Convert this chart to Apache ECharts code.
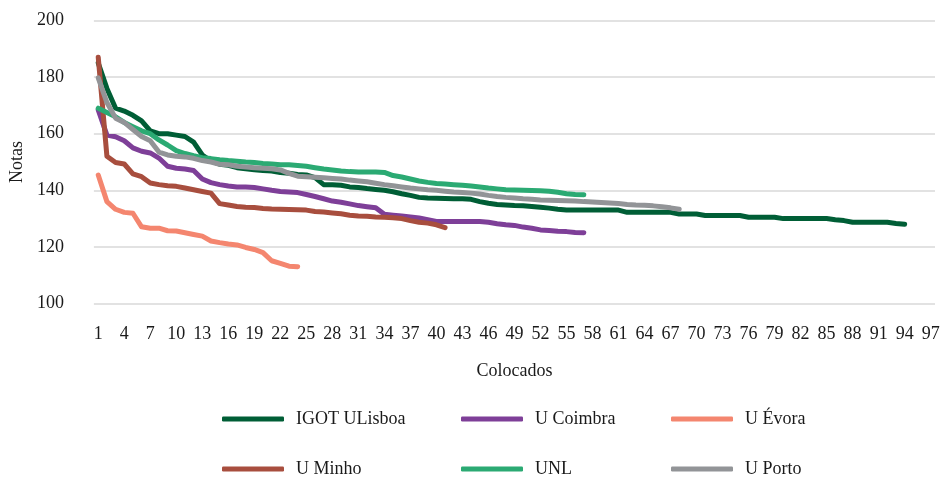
<!DOCTYPE html>
<html>
<head>
<meta charset="utf-8">
<script src="https://cdn.jsdelivr.net/npm/echarts@6/dist/echarts.min.js"></script>
<style>
html,body{margin:0;padding:0;background:#fff;}
#chart{width:943px;height:478px;}
</style>
</head>
<body>
<div id="chart"></div>
<script>
const categories = Array.from({length: 97}, (_, i) => String(i + 1));

const seriesNames = ['IGOT ULisboa', 'U Coimbra', 'U Évora', 'U Minho', 'UNL', 'U Porto'];

const igot = [185, 176, 169, 168, 166.5, 164.5, 161, 160, 160, 159.5,
  159, 157, 152.5, 150.3, 149.2, 148.8, 148, 147.6, 147.3, 147,
  146.8, 146.3, 146, 145.6, 145.4, 144.5, 142, 142, 141.8, 141.2,
  141, 140.6, 140.3, 140, 139.5, 138.8, 138.2, 137.5, 137.3, 137.2,
  137.1, 137, 137, 136.8, 136, 135.4, 135, 134.8, 134.6, 134.5,
  134.3, 134, 133.7, 133.3, 133, 133, 133, 133, 133, 133,
  133, 132.2, 132.2, 132.2, 132.2, 132.2, 132.2, 131.6, 131.6, 131.6,
  131.1, 131.1, 131.1, 131.1, 131.1, 130.5, 130.5, 130.5, 130.5, 130,
  130, 130, 130, 130, 130, 129.6, 129.3, 128.7, 128.7, 128.7,
  128.7, 128.7, 128.3, 128];

const coimbra = [168.4, 159.5, 158.9, 157.5, 155, 153.8, 153.2, 151.4, 148.5, 147.8,
  147.5, 147, 144, 142.7, 142, 141.5, 141.2, 141.2, 141, 140.5,
  140, 139.6, 139.4, 139.2, 138.5, 137.8, 137, 136.2, 135.8, 135.2,
  134.6, 134.2, 133.8, 131.5, 131.2, 130.9, 130.6, 130.2, 129.6, 129,
  129, 129, 129, 129, 129, 128.7, 128.2, 127.8, 127.6, 127,
  126.6, 126, 125.8, 125.5, 125.4, 125.1, 125];

const evora = [145.4, 136, 133.3, 132.2, 131.9, 127.1, 126.6, 126.6, 125.7, 125.6,
  125, 124.4, 123.8, 122.1, 121.5, 121, 120.7, 119.8, 119.1, 118,
  115.1, 114.2, 113.2, 113];

const minho = [187, 152, 149.8, 149.3, 145.8, 144.8, 142.6, 142, 141.6, 141.4,
  140.8, 140.2, 139.6, 139, 135.3, 134.8, 134.3, 134, 133.9, 133.6,
  133.4, 133.3, 133.2, 133.1, 133, 132.5, 132.3, 132, 131.7, 131.2,
  130.9, 130.8, 130.6, 130.5, 130.3, 130, 129.3, 128.7, 128.4, 127.8,
  126.8];

const unl = [169, 167.5, 166, 164, 162.5, 161, 160, 157.8, 156, 154,
  153, 152.2, 151.5, 151.2, 150.8, 150.5, 150.3, 150, 149.8, 149.5,
  149.3, 149, 149, 148.8, 148.5, 148, 147.5, 147.2, 146.8, 146.6,
  146.5, 146.5, 146.5, 146.3, 145.2, 144.7, 144, 143.3, 142.8, 142.4,
  142.2, 142, 141.8, 141.5, 141.2, 140.8, 140.5, 140.2, 140.1, 140,
  139.9, 139.8, 139.7, 139.3, 138.8, 138.5, 138.4];

const porto = [179.7, 171, 165.5, 164, 161.5, 159, 157.5, 153.5, 152.5, 152,
  151.8, 151.3, 150.5, 150, 149.2, 149, 148.5, 148.2, 148, 147.8,
  147.6, 147.2, 146, 145, 144.8, 144.6, 144.4, 144.2, 144, 143.6,
  143.3, 143, 142.5, 142, 141.6, 141.2, 140.8, 140.5, 140.2, 140,
  139.7, 139.4, 139.2, 139, 138.7, 138.2, 137.8, 137.5, 137.3, 137,
  136.8, 136.6, 136.5, 136.4, 136.3, 136.2, 136, 135.9, 135.7, 135.5,
  135.3, 135, 134.8, 134.7, 134.5, 134.2, 133.8, 133.3];

const seriesData = [igot, coimbra, evora, minho, unl, porto];
const colors = ['#005E36', '#7E3F98', '#F4866F', '#A84E3E', '#2BAA73', '#929497'];

const FONT = '"Liberation Serif", "Times New Roman", serif';
const chart = echarts.init(document.getElementById('chart'));

const legendLefts = [222, 461, 671, 222, 461, 671];
const legendTops = [408, 408, 408, 458, 458, 458];

const legends = seriesNames.map((n, i) => ({
  left: legendLefts[i],
  top: legendTops[i],
  padding: 0,
  itemWidth: 62,
  itemHeight: 5,
  icon: 'roundRect',
  data: [n],
  textStyle: {fontFamily: FONT, fontSize: 18, color: '#1a1a1a', lineHeight: 22, padding: [0, 0, 0, 7]}
}));

chart.setOption({
  animation: false,
  color: colors,
  grid: {left: 93, right: 8, top: 20.5, bottom: 174.5, containLabel: false},
  legend: legends,
  xAxis: {
    type: 'category',
    data: categories,
    boundaryGap: true,
    name: 'Colocados',
    nameLocation: 'middle',
    nameGap: 59,
    nameTextStyle: {fontFamily: FONT, fontSize: 18, color: '#1a1a1a'},
    axisLine: {show: false},
    axisTick: {show: false},
    axisLabel: {interval: 2, fontFamily: FONT, fontSize: 18, color: '#1a1a1a', margin: 22, hideOverlap: false}
  },
  yAxis: {
    type: 'value',
    min: 100,
    max: 200,
    interval: 20,
    name: 'Notas',
    nameLocation: 'middle',
    nameGap: 66,
    nameRotate: 90,
    nameTextStyle: {fontFamily: FONT, fontSize: 18, color: '#1a1a1a'},
    axisLine: {show: false},
    axisTick: {show: false},
    splitLine: {lineStyle: {color: '#d9d9d9', width: 1.5}},
    axisLabel: {fontFamily: FONT, fontSize: 18, color: '#1a1a1a', margin: 30}
  },
  series: seriesNames.map((n, i) => ({
    name: n,
    type: 'line',
    data: seriesData[i],
    symbol: 'none',
    smooth: false,
    lineStyle: {width: 5, color: colors[i], cap: 'round', join: 'round'},
    itemStyle: {color: colors[i]}
  }))
});
</script>
</body>
</html>
